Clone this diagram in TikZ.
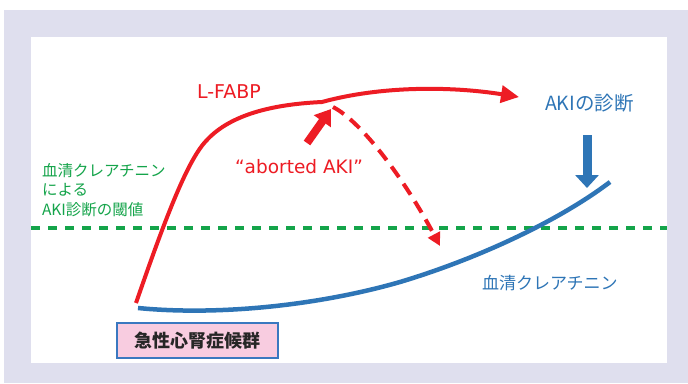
\documentclass[tikz,border=0pt]{standalone}
\usepackage{fontspec}
\setmainfont{Noto Sans CJK JP}
\newfontfamily\latinsans{DejaVu Sans}
\usetikzlibrary{arrows.meta}
\definecolor{bglav}{HTML}{DFDFEE}
\definecolor{cred}{HTML}{ED1C24}
\definecolor{cblue}{HTML}{2E75B6}
\definecolor{cgreen}{HTML}{14A44A}
\definecolor{cpink}{HTML}{F8CCE0}
\definecolor{cboxb}{HTML}{3A78C0}
\tikzset{
  lbl/.style={inner sep=0pt, outer sep=0pt, anchor=west},
  redcurve/.style={draw=cred, line width=4pt},
  bluecurve/.style={draw=cblue, line width=4.5pt},
}
\begin{document}
\begin{tikzpicture}[x=1pt,y=-1pt]
\useasboundingbox (0,0) rectangle (688,383);
\fill[white] (0,0) rectangle (688,383);
\fill[bglav] (3.5,10) rectangle (688,383);
\fill[white] (31,37) rectangle (667,363);

% threshold
\coordinate (thL) at (31,228);
\coordinate (thR) at (667,228);
\draw[cgreen, line width=3.5pt, dash pattern=on 9pt off 8pt] (thL) -- (thR);

% serum creatinine curve
\coordinate (b0) at (138,308);
\coordinate (b1) at (400,282);
\coordinate (b2) at (610,182);
\draw[bluecurve] (b0) .. controls (220,316) and (320,305) .. (b1)
  .. controls (480,258) and (560,220) .. (b2);

% L-FABP curve
\coordinate (r0) at (136,303);
\coordinate (r1) at (206,141);
\coordinate (r2) at (322,102);
\coordinate (r3) at (519,97);
\draw[redcurve, -{Triangle[length=18pt,width=17pt]}] (r0) .. controls (162,228) and (186,162) .. (r1)
  .. controls (232,112) and (280,104) .. (r2)
  .. controls (380,86) and (450,86) .. (r3);

% aborted dashed branch
\coordinate (d0) at (333,107);
\coordinate (d1) at (440,246);
\draw[cred, line width=4pt, dash pattern=on 13pt off 8pt, -{Triangle[length=13pt,width=13pt]}]
  (d0) .. controls (362,122) and (405,180) .. (d1);

% thick red arrow
\coordinate (ta0) at (307,143);
\coordinate (ta1) at (331,109);
\draw[cred, line width=8pt, -{Triangle[length=15pt,width=20pt]}] (ta0) -- (ta1);

% blue down arrow
\coordinate (ba0) at (587,135);
\coordinate (ba1) at (587,188);
\draw[cblue, line width=9pt, -{Triangle[length=13pt,width=23pt]}] (ba0) -- (ba1);

% labels
\node[lbl, text=cred, font=\latinsans\fontsize{19}{22}\selectfont] (lfabp) at (197,92) {L-FABP};
\node[inner sep=0pt, text=cred, font=\latinsans\fontsize{18.5}{22}\selectfont] (abort) at (299,167) {“aborted AKI”};
\node[lbl, text=cblue, font=\fontsize{19.5}{22}\selectfont] (akidx) at (545,103) {AKIの診断};
\node[lbl, text=cblue, font=\fontsize{17}{20}\selectfont] (scr) at (482,283) {血清クレアチニン};
\node[lbl, text=cgreen, font=\fontsize{15.5}{19.5}\selectfont, align=left, anchor=north west] (thr) at (42,163)
  {血清クレアチニン\\による\\AKI診断の閾値};
\node[draw=cboxb, line width=1.5pt, fill=cpink, minimum width=161pt, minimum height=35pt,
  inner sep=0pt, font=\fontsize{18}{21}\selectfont\bfseries, text=black!85] (crs) at (197.5,340.5) {急性心腎症候群};
\end{tikzpicture}
\end{document}
